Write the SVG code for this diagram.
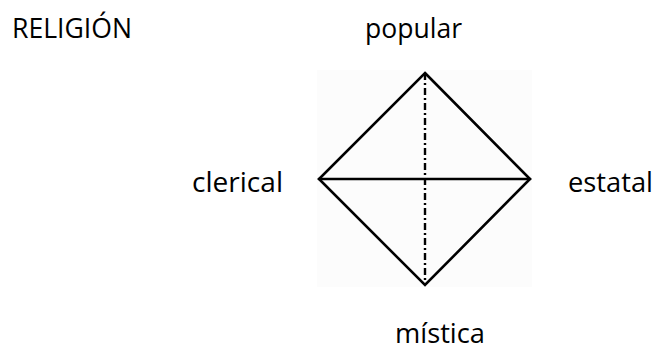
<svg xmlns="http://www.w3.org/2000/svg" width="656" height="351" viewBox="0 0 656 351">
<style>
.t{font-family:"Open Sans","Liberation Sans",sans-serif;font-size:27px;fill:#000}
.e{stroke:#000;stroke-width:2.6;fill:none;stroke-linecap:round}
</style>
<rect width="656" height="351" fill="#fff"/>
<g id="title"><text class="t" x="12" y="38" textLength="120" lengthAdjust="spacingAndGlyphs">RELIGIÓN</text></g>
<g id="panel"><rect x="317" y="70" width="215" height="217" fill="#fcfcfc"/></g>
<g id="popular"><text class="t" x="365" y="38" textLength="97" lengthAdjust="spacingAndGlyphs">popular</text></g>
<g id="clerical"><text class="t" x="192" y="192" textLength="91" lengthAdjust="spacingAndGlyphs">clerical</text></g>
<g id="estatal"><text class="t" x="568" y="192" textLength="85" lengthAdjust="spacingAndGlyphs">estatal</text></g>
<g id="mistica"><text class="t" x="395" y="343" textLength="90" lengthAdjust="spacingAndGlyphs">mística</text></g>
<g id="connectors">
<path class="e" d="M425 73 L530 179 L425 285 L319 179 Z"/>
<line class="e" x1="319" y1="179" x2="530" y2="179"/>
<line x1="425" y1="73" x2="425" y2="285" stroke="#000" stroke-width="2.4" stroke-dasharray="7 3 2 3"/>
</g>
</svg>
